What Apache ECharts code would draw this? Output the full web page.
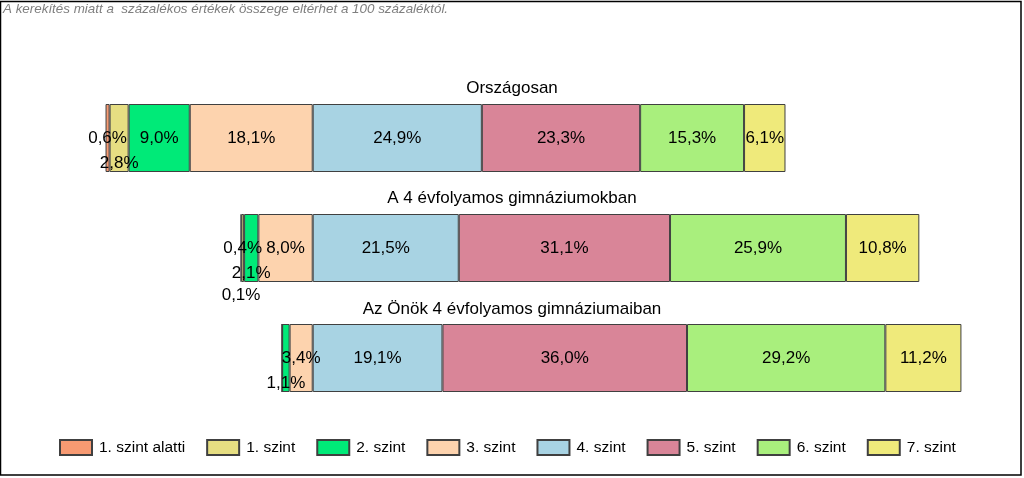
<!DOCTYPE html>
<html>
<head>
<meta charset="utf-8">
<script src="https://cdn.jsdelivr.net/npm/echarts@6/dist/echarts.min.js"></script>
<style>
  html, body { margin: 0; padding: 0; background: #fff; }
  #chart { width: 1024px; height: 478px; }
</style>
</head>
<body>
<div id="chart"></div>
<script>
var groups = ['Országosan', 'A 4 évfolyamos gimnáziumokban', 'Az Önök 4 évfolyamos gimnáziumaiban'];
var levels = ['1. szint alatti', '1. szint', '2. szint', '3. szint', '4. szint', '5. szint', '6. szint', '7. szint'];

// percent values per level, one value per group
var lvlBelow1 = [0.6, 0.1, 0];
var lvl1 = [2.8, 0.4, 0];
var lvl2 = [9.0, 2.1, 1.1];
var lvl3 = [18.1, 8.0, 3.4];
var lvl4 = [24.9, 21.5, 19.1];
var lvl5 = [23.3, 31.1, 36.0];
var lvl6 = [15.3, 25.9, 29.2];
var lvl7 = [6.1, 10.8, 11.2];

var colors = {
    '1. szint alatti': '#F79A72',
    '1. szint': '#E6DE82',
    '2. szint': '#00EA78',
    '3. szint': '#FDD3AE',
    '4. szint': '#A8D3E3',
    '5. szint': '#D98598',
    '6. szint': '#A9EF7D',
    '7. szint': '#EFEA7B'
};

// small segments: labels pushed down like in the original
var labelShift = {
    '1. szint': [25, 0, null],
    '2. szint': [null, 25, 25],
    '1. szint alatti': [0, 47, null]
};

var valuesByLevel = {
    '1. szint alatti': lvlBelow1,
    '1. szint': lvl1,
    '2. szint': lvl2,
    '3. szint': lvl3,
    '4. szint': lvl4,
    '5. szint': lvl5,
    '6. szint': lvl6,
    '7. szint': lvl7
};
var leftSide = ['1. szint alatti', '1. szint', '2. szint', '3. szint'];
// stacking order: the level nearest to zero goes first
var stackOrder = ['3. szint', '2. szint', '1. szint', '1. szint alatti', '4. szint', '5. szint', '6. szint', '7. szint'];

var fontFam = 'Liberation Sans, Arial, sans-serif';

var series = stackOrder.map(function (name) {
    var neg = leftSide.indexOf(name) >= 0;
    var vals = valuesByLevel[name];
    return {
        name: name,
        type: 'bar',
        stack: 'total',
        barWidth: 68,
        itemStyle: { color: colors[name], borderColor: '#404040', borderWidth: 1 },
        label: {
            show: true,
            position: 'inside',
            color: '#000',
            fontSize: 17,
            fontFamily: fontFam,
            formatter: function (p) {
                var v = Math.abs(p.value);
                return v === 0 ? '' : v.toFixed(1).replace('.', ',') + '%';
            }
        },
        data: vals.map(function (v, i) {
            var item = { value: neg ? -v : v };
            if (labelShift[name] && labelShift[name][i] != null) {
                item.label = { offset: [0, labelShift[name][i]] };
            }
            return item;
        })
    };
});

var titleTops = [80, 190, 301];

var myChart = echarts.init(document.getElementById('chart'));
myChart.setOption({
    animation: false,
    title: groups.map(function (g, i) {
        return {
            text: g,
            left: 'center',
            top: titleTops[i],
            padding: 0,
            textStyle: { color: '#000', fontSize: 17, fontWeight: 'normal', fontFamily: fontFam }
        };
    }),
    graphic: [
        {
            type: 'rect',
            shape: { x: 0.5, y: 1.5, width: 1020.5, height: 473.5 },
            style: { fill: 'none', stroke: '#000', lineWidth: 1.5 },
            silent: true
        },
        {
            type: 'text',
            left: 3,
            top: 3,
            style: {
                text: 'A kerekítés miatt a  százalékos értékek összege eltérhet a 100 százaléktól.',
                fill: '#7f7f7f',
                font: 'italic 13.4px ' + fontFam,
                backgroundColor: '#fff'
            }
        }
    ],
    legend: {
        data: levels,
        left: 59,
        top: 439,
        padding: 0,
        icon: 'rect',
        itemWidth: 32,
        itemHeight: 15,
        itemGap: 21,
        textStyle: { color: '#000', fontSize: 15.5, fontFamily: fontFam, padding: [0, 0, 0, 2] }
    },
    grid: { left: 41, right: 32, top: 83, height: 330 },
    xAxis: {
        type: 'value',
        min: -40,
        max: 100,
        show: false
    },
    yAxis: {
        type: 'category',
        data: groups,
        inverse: true,
        show: false
    },
    series: series
});

window.addEventListener('resize', function () {
    myChart.resize();
});
</script>
</body>
</html>
